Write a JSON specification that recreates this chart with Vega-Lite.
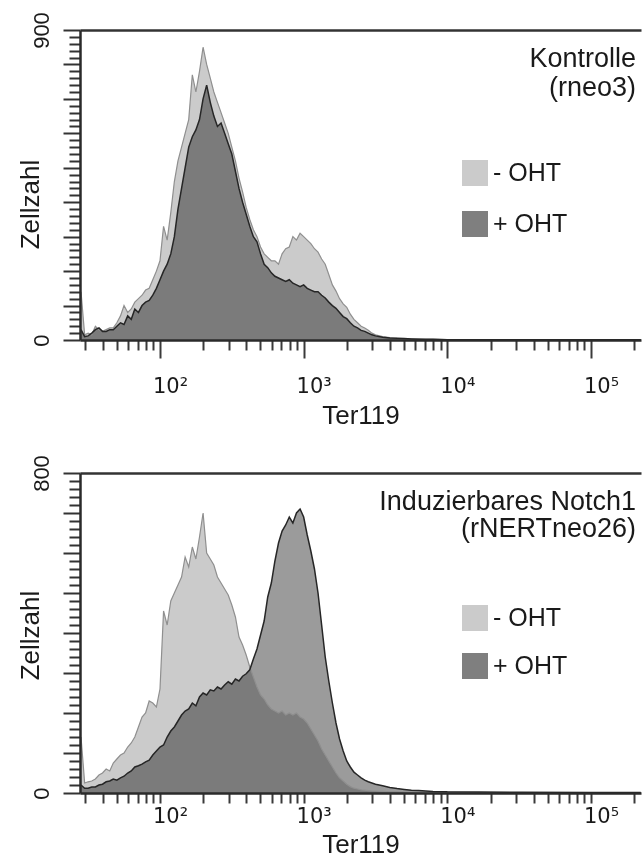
{
  "$schema": "https://vega.github.io/schema/vega-lite/v6.json",
  "background": "white",
  "padding": {"left": 17, "top": 11, "right": 1, "bottom": 0},
  "config": {
    "font": "Liberation Sans",
    "view": {"stroke": null}
  },
  "datasets": {
    "kontrolle": [
      {"Ter119": 28.2, "- OHT": 140, "+ OHT": 30},
      {"Ter119": 29.9, "- OHT": 15, "+ OHT": 10},
      {"Ter119": 31.6, "- OHT": 20, "+ OHT": 12},
      {"Ter119": 33.5, "- OHT": 15, "+ OHT": 20},
      {"Ter119": 35.5, "- OHT": 40, "+ OHT": 30},
      {"Ter119": 37.6, "- OHT": 30, "+ OHT": 35},
      {"Ter119": 39.8, "- OHT": 25, "+ OHT": 25},
      {"Ter119": 42.2, "- OHT": 30, "+ OHT": 25},
      {"Ter119": 44.7, "- OHT": 35, "+ OHT": 30},
      {"Ter119": 47.3, "- OHT": 35, "+ OHT": 30},
      {"Ter119": 50.1, "- OHT": 50, "+ OHT": 40},
      {"Ter119": 53.1, "- OHT": 70, "+ OHT": 50},
      {"Ter119": 56.2, "- OHT": 100, "+ OHT": 45},
      {"Ter119": 59.6, "- OHT": 80, "+ OHT": 70},
      {"Ter119": 63.1, "- OHT": 90, "+ OHT": 60},
      {"Ter119": 66.8, "- OHT": 110, "+ OHT": 90},
      {"Ter119": 70.8, "- OHT": 120, "+ OHT": 80},
      {"Ter119": 75.0, "- OHT": 130, "+ OHT": 100},
      {"Ter119": 79.4, "- OHT": 145, "+ OHT": 110},
      {"Ter119": 84.1, "- OHT": 150, "+ OHT": 115},
      {"Ter119": 89.1, "- OHT": 175, "+ OHT": 130},
      {"Ter119": 94.4, "- OHT": 200, "+ OHT": 150},
      {"Ter119": 100, "- OHT": 230, "+ OHT": 175},
      {"Ter119": 105.9, "- OHT": 330, "+ OHT": 200},
      {"Ter119": 112.2, "- OHT": 290, "+ OHT": 220},
      {"Ter119": 118.9, "- OHT": 370, "+ OHT": 250},
      {"Ter119": 125.9, "- OHT": 460, "+ OHT": 300},
      {"Ter119": 133.4, "- OHT": 520, "+ OHT": 380},
      {"Ter119": 141.3, "- OHT": 560, "+ OHT": 440},
      {"Ter119": 149.6, "- OHT": 600, "+ OHT": 500},
      {"Ter119": 158.5, "- OHT": 640, "+ OHT": 560},
      {"Ter119": 167.9, "- OHT": 770, "+ OHT": 590},
      {"Ter119": 177.8, "- OHT": 720, "+ OHT": 610},
      {"Ter119": 188.4, "- OHT": 780, "+ OHT": 640},
      {"Ter119": 199.5, "- OHT": 850, "+ OHT": 700},
      {"Ter119": 211.3, "- OHT": 800, "+ OHT": 740},
      {"Ter119": 223.9, "- OHT": 760, "+ OHT": 690},
      {"Ter119": 237.1, "- OHT": 720, "+ OHT": 650},
      {"Ter119": 251.2, "- OHT": 690, "+ OHT": 620},
      {"Ter119": 266.1, "- OHT": 660, "+ OHT": 630},
      {"Ter119": 281.8, "- OHT": 630, "+ OHT": 600},
      {"Ter119": 298.5, "- OHT": 600, "+ OHT": 570},
      {"Ter119": 316.2, "- OHT": 560, "+ OHT": 540},
      {"Ter119": 335.0, "- OHT": 520, "+ OHT": 490},
      {"Ter119": 354.8, "- OHT": 470, "+ OHT": 440},
      {"Ter119": 375.8, "- OHT": 430, "+ OHT": 400},
      {"Ter119": 398.1, "- OHT": 385, "+ OHT": 365},
      {"Ter119": 421.7, "- OHT": 350, "+ OHT": 330},
      {"Ter119": 446.7, "- OHT": 320, "+ OHT": 300},
      {"Ter119": 473.2, "- OHT": 300, "+ OHT": 285},
      {"Ter119": 501.2, "- OHT": 270, "+ OHT": 250},
      {"Ter119": 530.9, "- OHT": 250, "+ OHT": 220},
      {"Ter119": 562.3, "- OHT": 240, "+ OHT": 210},
      {"Ter119": 595.7, "- OHT": 230, "+ OHT": 195},
      {"Ter119": 631.0, "- OHT": 230, "+ OHT": 185},
      {"Ter119": 668.3, "- OHT": 220, "+ OHT": 180},
      {"Ter119": 707.9, "- OHT": 250, "+ OHT": 175},
      {"Ter119": 749.9, "- OHT": 265, "+ OHT": 170},
      {"Ter119": 794.3, "- OHT": 270, "+ OHT": 175},
      {"Ter119": 841.4, "- OHT": 300, "+ OHT": 165},
      {"Ter119": 891.3, "- OHT": 290, "+ OHT": 160},
      {"Ter119": 944.1, "- OHT": 310, "+ OHT": 155},
      {"Ter119": 1000, "- OHT": 300, "+ OHT": 160},
      {"Ter119": 1059, "- OHT": 290, "+ OHT": 150},
      {"Ter119": 1122, "- OHT": 280, "+ OHT": 145},
      {"Ter119": 1189, "- OHT": 265, "+ OHT": 140},
      {"Ter119": 1259, "- OHT": 255, "+ OHT": 140},
      {"Ter119": 1334, "- OHT": 235, "+ OHT": 130},
      {"Ter119": 1413, "- OHT": 220, "+ OHT": 122},
      {"Ter119": 1496, "- OHT": 190, "+ OHT": 110},
      {"Ter119": 1585, "- OHT": 160, "+ OHT": 100},
      {"Ter119": 1679, "- OHT": 142, "+ OHT": 92},
      {"Ter119": 1778, "- OHT": 120, "+ OHT": 80},
      {"Ter119": 1884, "- OHT": 105, "+ OHT": 68},
      {"Ter119": 1995, "- OHT": 95, "+ OHT": 62},
      {"Ter119": 2113, "- OHT": 75, "+ OHT": 50},
      {"Ter119": 2239, "- OHT": 60, "+ OHT": 40},
      {"Ter119": 2371, "- OHT": 50, "+ OHT": 35},
      {"Ter119": 2512, "- OHT": 40, "+ OHT": 28},
      {"Ter119": 2661, "- OHT": 35, "+ OHT": 25},
      {"Ter119": 2818, "- OHT": 28, "+ OHT": 20},
      {"Ter119": 2985, "- OHT": 20, "+ OHT": 15},
      {"Ter119": 3162, "- OHT": 15, "+ OHT": 12},
      {"Ter119": 3548, "- OHT": 10, "+ OHT": 8},
      {"Ter119": 3981, "- OHT": 7, "+ OHT": 6},
      {"Ter119": 4467, "- OHT": 5, "+ OHT": 5},
      {"Ter119": 5012, "- OHT": 4, "+ OHT": 4},
      {"Ter119": 5623, "- OHT": 3, "+ OHT": 3},
      {"Ter119": 6310, "- OHT": 3, "+ OHT": 2},
      {"Ter119": 7079, "- OHT": 2, "+ OHT": 2},
      {"Ter119": 7943, "- OHT": 2, "+ OHT": 2},
      {"Ter119": 10000, "- OHT": 1, "+ OHT": 1},
      {"Ter119": 31623, "- OHT": 1, "+ OHT": 1},
      {"Ter119": 100000, "- OHT": 1, "+ OHT": 1},
      {"Ter119": 222000, "- OHT": 1, "+ OHT": 1}
    ],
    "notch": [
      {"Ter119": 28.2, "- OHT": 140, "+ OHT": 20},
      {"Ter119": 29.9, "- OHT": 25, "+ OHT": 12},
      {"Ter119": 31.6, "- OHT": 28, "+ OHT": 12},
      {"Ter119": 33.5, "- OHT": 30, "+ OHT": 15},
      {"Ter119": 35.5, "- OHT": 35, "+ OHT": 15},
      {"Ter119": 37.6, "- OHT": 45, "+ OHT": 20},
      {"Ter119": 39.8, "- OHT": 50, "+ OHT": 22},
      {"Ter119": 42.2, "- OHT": 60, "+ OHT": 28},
      {"Ter119": 44.7, "- OHT": 55, "+ OHT": 30},
      {"Ter119": 47.3, "- OHT": 75, "+ OHT": 35},
      {"Ter119": 50.1, "- OHT": 85, "+ OHT": 32},
      {"Ter119": 53.1, "- OHT": 95, "+ OHT": 38},
      {"Ter119": 56.2, "- OHT": 100, "+ OHT": 42},
      {"Ter119": 59.6, "- OHT": 115, "+ OHT": 50},
      {"Ter119": 63.1, "- OHT": 125, "+ OHT": 55},
      {"Ter119": 66.8, "- OHT": 140, "+ OHT": 65},
      {"Ter119": 70.8, "- OHT": 165, "+ OHT": 68},
      {"Ter119": 75.0, "- OHT": 190, "+ OHT": 72},
      {"Ter119": 79.4, "- OHT": 200, "+ OHT": 78},
      {"Ter119": 84.1, "- OHT": 230, "+ OHT": 82},
      {"Ter119": 89.1, "- OHT": 225, "+ OHT": 95},
      {"Ter119": 94.4, "- OHT": 215, "+ OHT": 105},
      {"Ter119": 100, "- OHT": 260, "+ OHT": 115},
      {"Ter119": 105.9, "- OHT": 455, "+ OHT": 120},
      {"Ter119": 112.2, "- OHT": 420, "+ OHT": 140},
      {"Ter119": 118.9, "- OHT": 480, "+ OHT": 155},
      {"Ter119": 125.9, "- OHT": 500, "+ OHT": 165},
      {"Ter119": 133.4, "- OHT": 520, "+ OHT": 180},
      {"Ter119": 141.3, "- OHT": 540, "+ OHT": 195},
      {"Ter119": 149.6, "- OHT": 590, "+ OHT": 205},
      {"Ter119": 158.5, "- OHT": 565, "+ OHT": 210},
      {"Ter119": 167.9, "- OHT": 615, "+ OHT": 225},
      {"Ter119": 177.8, "- OHT": 585, "+ OHT": 218},
      {"Ter119": 188.4, "- OHT": 640, "+ OHT": 240},
      {"Ter119": 199.5, "- OHT": 700, "+ OHT": 250},
      {"Ter119": 211.3, "- OHT": 600, "+ OHT": 245},
      {"Ter119": 223.9, "- OHT": 585, "+ OHT": 258},
      {"Ter119": 237.1, "- OHT": 570, "+ OHT": 255},
      {"Ter119": 251.2, "- OHT": 540, "+ OHT": 265},
      {"Ter119": 266.1, "- OHT": 525, "+ OHT": 260},
      {"Ter119": 281.8, "- OHT": 510, "+ OHT": 270},
      {"Ter119": 298.5, "- OHT": 495, "+ OHT": 278},
      {"Ter119": 316.2, "- OHT": 470, "+ OHT": 272},
      {"Ter119": 335.0, "- OHT": 440, "+ OHT": 285},
      {"Ter119": 354.8, "- OHT": 390, "+ OHT": 280},
      {"Ter119": 375.8, "- OHT": 370, "+ OHT": 292},
      {"Ter119": 398.1, "- OHT": 345, "+ OHT": 298},
      {"Ter119": 421.7, "- OHT": 315, "+ OHT": 308},
      {"Ter119": 446.7, "- OHT": 290, "+ OHT": 335},
      {"Ter119": 473.2, "- OHT": 265, "+ OHT": 360},
      {"Ter119": 501.2, "- OHT": 245, "+ OHT": 395},
      {"Ter119": 530.9, "- OHT": 235, "+ OHT": 430},
      {"Ter119": 562.3, "- OHT": 220, "+ OHT": 490},
      {"Ter119": 595.7, "- OHT": 210, "+ OHT": 525},
      {"Ter119": 631.0, "- OHT": 205, "+ OHT": 580},
      {"Ter119": 668.3, "- OHT": 200, "+ OHT": 625},
      {"Ter119": 707.9, "- OHT": 205, "+ OHT": 655},
      {"Ter119": 749.9, "- OHT": 195, "+ OHT": 670},
      {"Ter119": 794.3, "- OHT": 200, "+ OHT": 690},
      {"Ter119": 841.4, "- OHT": 195, "+ OHT": 675},
      {"Ter119": 891.3, "- OHT": 200, "+ OHT": 700},
      {"Ter119": 944.1, "- OHT": 190, "+ OHT": 710},
      {"Ter119": 1000, "- OHT": 185, "+ OHT": 690},
      {"Ter119": 1059, "- OHT": 175, "+ OHT": 645},
      {"Ter119": 1122, "- OHT": 160, "+ OHT": 605},
      {"Ter119": 1189, "- OHT": 145, "+ OHT": 560},
      {"Ter119": 1259, "- OHT": 130, "+ OHT": 500},
      {"Ter119": 1334, "- OHT": 110, "+ OHT": 420},
      {"Ter119": 1413, "- OHT": 95, "+ OHT": 340},
      {"Ter119": 1496, "- OHT": 80, "+ OHT": 280},
      {"Ter119": 1585, "- OHT": 65, "+ OHT": 225},
      {"Ter119": 1679, "- OHT": 50, "+ OHT": 175},
      {"Ter119": 1778, "- OHT": 38, "+ OHT": 135},
      {"Ter119": 1884, "- OHT": 30, "+ OHT": 105},
      {"Ter119": 1995, "- OHT": 22, "+ OHT": 80},
      {"Ter119": 2113, "- OHT": 16, "+ OHT": 65},
      {"Ter119": 2239, "- OHT": 12, "+ OHT": 52},
      {"Ter119": 2371, "- OHT": 10, "+ OHT": 45},
      {"Ter119": 2512, "- OHT": 8, "+ OHT": 38},
      {"Ter119": 2661, "- OHT": 7, "+ OHT": 32},
      {"Ter119": 2818, "- OHT": 6, "+ OHT": 28},
      {"Ter119": 2985, "- OHT": 5, "+ OHT": 25},
      {"Ter119": 3162, "- OHT": 5, "+ OHT": 22},
      {"Ter119": 3548, "- OHT": 4, "+ OHT": 18},
      {"Ter119": 3981, "- OHT": 3, "+ OHT": 14},
      {"Ter119": 4467, "- OHT": 3, "+ OHT": 11},
      {"Ter119": 5012, "- OHT": 2, "+ OHT": 9},
      {"Ter119": 5623, "- OHT": 2, "+ OHT": 7},
      {"Ter119": 6310, "- OHT": 2, "+ OHT": 6},
      {"Ter119": 7079, "- OHT": 1, "+ OHT": 5},
      {"Ter119": 7943, "- OHT": 1, "+ OHT": 4},
      {"Ter119": 10000, "- OHT": 1, "+ OHT": 3},
      {"Ter119": 31623, "- OHT": 1, "+ OHT": 2},
      {"Ter119": 100000, "- OHT": 1, "+ OHT": 1},
      {"Ter119": 222000, "- OHT": 1, "+ OHT": 1}
    ]
  },
  "spacing": 26,
  "resolve": {
    "scale": {"x": "independent", "y": "independent", "color": "independent"},
    "legend": {"color": "independent"}
  },
  "vconcat": [
    {
      "width": 561,
      "height": 310,
      "title": {
        "text": ["Kontrolle", "(rneo3)"],
        "orient": "top",
        "anchor": "end",
        "align": "right",
        "frame": "group",
        "baseline": "top",
        "offset": -90,
        "dx": -5,
        "fontSize": 27,
        "fontWeight": "normal",
        "color": "#1a1a1a",
        "lineHeight": 29
      },
      "data": {"name": "kontrolle"},
      "transform": [{"fold": ["- OHT", "+ OHT"], "as": ["Probe", "Zellzahl"]}],
      "encoding": {
        "x": {
          "field": "Ter119",
          "type": "quantitative",
          "scale": {"type": "log", "domain": [27.75, 222900], "nice": false},
          "axis": {
            "values": [30, 40, 50, 60, 70, 80, 90, 100, 200, 300, 400, 500, 600, 700, 800, 900, 1000, 2000, 3000, 4000, 5000, 6000, 7000, 8000, 9000, 10000, 20000, 30000, 40000, 50000, 60000, 70000, 80000, 90000, 100000, 200000],
            "labelExpr": "datum.value === 100 ? '10²' : datum.value === 1000 ? '10³' : datum.value === 10000 ? '10⁴' : datum.value === 100000 ? '10⁵' : ''",
            "labelOverlap": false,
            "labelFlush": false,
            "labelBound": false,
            "labelFont": "DejaVu Sans",
            "labelFontSize": 21,
            "labelColor": "#1a1a1a",
            "labelBaseline": "alphabetic",
            "labelPadding": 34,
            "labelOffset": 10,
            "tickSize": {"condition": {"test": "datum.value === 100 || datum.value === 1000 || datum.value === 10000 || datum.value === 100000", "value": 18}, "value": 10},
            "tickWidth": 2,
            "tickColor": "#3a3a3a",
            "domainColor": "#2a2a2a",
            "domainWidth": 2.5,
            "grid": false,
            "title": "Ter119",
            "titleFontSize": 26,
            "titleFontWeight": "normal",
            "titleColor": "#1a1a1a",
            "titleBaseline": "alphabetic",
            "titleY": 83,
            "zindex": 1
          }
        },
        "y": {
          "field": "Zellzahl",
          "type": "quantitative",
          "stack": null,
          "scale": {"domain": [0, 900], "nice": false},
          "axis": {
            "values": [0, 20, 40, 60, 80, 100, 120, 140, 160, 180, 200, 220, 240, 260, 280, 300, 320, 340, 360, 380, 400, 420, 440, 460, 480, 500, 520, 540, 560, 580, 600, 620, 640, 660, 680, 700, 720, 740, 760, 780, 800, 820, 840, 860, 880, 900],
            "labelExpr": "datum.value === 0 || datum.value === 900 ? datum.label : ''",
            "labelAngle": 270,
            "labelAlign": "center",
            "labelBaseline": "alphabetic",
            "labelFontSize": 22,
            "labelColor": "#1a1a1a",
            "labelPadding": 15,
            "labelOverlap": false,
            "labelFlush": false,
            "labelBound": false,
            "tickSize": {"condition": {"test": "datum.value % 100 === 0", "value": 17}, "value": 11},
            "tickWidth": 2,
            "tickColor": "#333333",
            "domainColor": "#2a2a2a",
            "domainWidth": 2.5,
            "grid": true,
            "gridColor": "#333333",
            "gridWidth": 2.5,
            "gridOpacity": {"condition": {"test": "datum.value === 900", "value": 1}, "value": 0},
            "title": "Zellzahl",
            "titleFontSize": 26,
            "titleFontWeight": "normal",
            "titleColor": "#1a1a1a",
            "titleAngle": 270,
            "titleAlign": "center",
            "titleBaseline": "alphabetic",
            "titleX": -42,
            "titleY": 174,
            "zindex": 1
          }
        }
      },
      "layer": [
        {
          "mark": {"type": "area", "blend": "multiply", "interpolate": "linear"},
          "encoding": {
            "color": {
              "field": "Probe",
              "type": "nominal",
              "scale": {"domain": ["- OHT", "+ OHT"], "range": ["#cbcbcb", "#7f7f7f"]},
              "legend": {
                "title": null,
                "orient": "none",
                "legendX": 382,
                "legendY": 130,
                "direction": "vertical",
                "padding": 0,
                "symbolType": "square",
                "symbolSize": 676,
                "symbolStrokeWidth": 0,
                "symbolOpacity": 1,
                "labelFontSize": 25,
                "labelColor": "#1a1a1a",
                "labelOffset": 5,
                "rowPadding": 25
              }
            },
            "fillOpacity": {"condition": {"test": "datum.Probe === '+ OHT'", "value": 0.78}, "value": 1}
          }
        },
        {
          "transform": [{"filter": "datum.Probe === '- OHT'"}],
          "mark": {"type": "line", "color": "#8f8f8f", "strokeWidth": 1.2},
          "encoding": {}
        },
        {
          "transform": [{"filter": "datum.Probe === '+ OHT'"}],
          "mark": {"type": "line", "color": "#262626", "strokeWidth": 1.5},
          "encoding": {}
        }
      ]
    },
    {
      "width": 561,
      "height": 320,
      "title": {
        "text": ["Induzierbares Notch1", "(rNERTneo26)"],
        "orient": "top",
        "anchor": "end",
        "align": "right",
        "frame": "group",
        "baseline": "top",
        "offset": -88,
        "dx": -5,
        "fontSize": 27,
        "fontWeight": "normal",
        "color": "#1a1a1a",
        "lineHeight": 27
      },
      "data": {"name": "notch"},
      "transform": [{"fold": ["- OHT", "+ OHT"], "as": ["Probe", "Zellzahl"]}],
      "encoding": {
        "x": {
          "field": "Ter119",
          "type": "quantitative",
          "scale": {"type": "log", "domain": [27.75, 222900], "nice": false},
          "axis": {
            "values": [30, 40, 50, 60, 70, 80, 90, 100, 200, 300, 400, 500, 600, 700, 800, 900, 1000, 2000, 3000, 4000, 5000, 6000, 7000, 8000, 9000, 10000, 20000, 30000, 40000, 50000, 60000, 70000, 80000, 90000, 100000, 200000],
            "labelExpr": "datum.value === 100 ? '10²' : datum.value === 1000 ? '10³' : datum.value === 10000 ? '10⁴' : datum.value === 100000 ? '10⁵' : ''",
            "labelOverlap": false,
            "labelFlush": false,
            "labelBound": false,
            "labelFont": "DejaVu Sans",
            "labelFontSize": 21,
            "labelColor": "#1a1a1a",
            "labelBaseline": "alphabetic",
            "labelPadding": 19,
            "labelOffset": 10,
            "tickSize": 10,
            "tickWidth": 2,
            "tickColor": "#3a3a3a",
            "domainColor": "#2a2a2a",
            "domainWidth": 2.5,
            "grid": false,
            "title": "Ter119",
            "titleFontSize": 26,
            "titleFontWeight": "normal",
            "titleColor": "#1a1a1a",
            "titleBaseline": "alphabetic",
            "titleY": 59,
            "zindex": 1
          }
        },
        "y": {
          "field": "Zellzahl",
          "type": "quantitative",
          "stack": null,
          "scale": {"domain": [0, 800], "nice": false},
          "axis": {
            "values": [0, 20, 40, 60, 80, 100, 120, 140, 160, 180, 200, 220, 240, 260, 280, 300, 320, 340, 360, 380, 400, 420, 440, 460, 480, 500, 520, 540, 560, 580, 600, 620, 640, 660, 680, 700, 720, 740, 760, 780, 800],
            "labelExpr": "datum.value === 0 || datum.value === 800 ? datum.label : ''",
            "labelAngle": 270,
            "labelAlign": "center",
            "labelBaseline": "alphabetic",
            "labelFontSize": 22,
            "labelColor": "#1a1a1a",
            "labelPadding": 15,
            "labelOverlap": false,
            "labelFlush": false,
            "labelBound": false,
            "tickSize": {"condition": {"test": "datum.value % 100 === 0", "value": 17}, "value": 11},
            "tickWidth": 2,
            "tickColor": "#333333",
            "domainColor": "#2a2a2a",
            "domainWidth": 2.5,
            "grid": true,
            "gridColor": "#333333",
            "gridWidth": 2.5,
            "gridOpacity": {"condition": {"test": "datum.value === 800", "value": 1}, "value": 0},
            "title": "Zellzahl",
            "titleFontSize": 26,
            "titleFontWeight": "normal",
            "titleColor": "#1a1a1a",
            "titleAngle": 270,
            "titleAlign": "center",
            "titleBaseline": "alphabetic",
            "titleX": -42,
            "titleY": 162,
            "zindex": 1
          }
        }
      },
      "layer": [
        {
          "mark": {"type": "area", "blend": "multiply", "interpolate": "linear"},
          "encoding": {
            "color": {
              "field": "Probe",
              "type": "nominal",
              "scale": {"domain": ["- OHT", "+ OHT"], "range": ["#cbcbcb", "#7f7f7f"]},
              "legend": {
                "title": null,
                "orient": "none",
                "legendX": 382,
                "legendY": 132,
                "direction": "vertical",
                "padding": 0,
                "symbolType": "square",
                "symbolSize": 676,
                "symbolStrokeWidth": 0,
                "symbolOpacity": 1,
                "labelFontSize": 25,
                "labelColor": "#1a1a1a",
                "labelOffset": 5,
                "rowPadding": 22
              }
            },
            "fillOpacity": {"condition": {"test": "datum.Probe === '+ OHT'", "value": 0.78}, "value": 1}
          }
        },
        {
          "transform": [{"filter": "datum.Probe === '- OHT'"}],
          "mark": {"type": "line", "color": "#8f8f8f", "strokeWidth": 1.2},
          "encoding": {}
        },
        {
          "transform": [{"filter": "datum.Probe === '+ OHT'"}],
          "mark": {"type": "line", "color": "#262626", "strokeWidth": 1.5},
          "encoding": {}
        }
      ]
    }
  ]
}
